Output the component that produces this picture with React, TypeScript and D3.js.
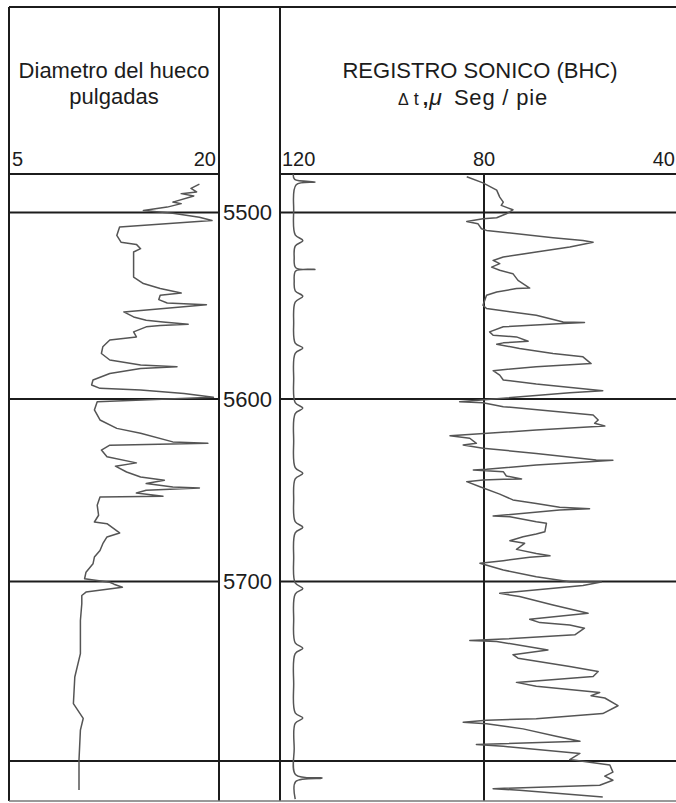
import React from "react";
import * as d3 from "d3";

// depth (ft), caliper (in)
const caliperLog = [
  [5485.3, 18.6], [5487.5, 18.0], [5489.3, 18.4], [5490.2, 17.3], [5491.4, 18.2], [5494.6, 16.7],
  [5495.4, 17.3], [5497.2, 16.3], [5499.0, 14.6], [5500.4, 16.7], [5502.5, 18.6], [5504.3, 19.5],
  [5507.8, 12.9], [5512.3, 12.7], [5515.9, 13.0], [5517.1, 14.1], [5519.4, 14.4], [5521.2, 13.9],
  [5534.6, 13.9], [5538.1, 14.6], [5540.8, 15.8], [5543.2, 17.3], [5544.4, 15.8], [5546.7, 15.7],
  [5548.5, 16.3], [5549.4, 19.1], [5553.3, 13.2], [5556.0, 13.9], [5557.8, 14.8], [5558.7, 16.0],
  [5559.9, 17.8], [5560.6, 15.8], [5561.3, 14.8], [5564.0, 13.9], [5566.7, 14.1], [5568.4, 12.2],
  [5572.0, 11.7], [5575.6, 11.6], [5579.1, 12.2], [5581.8, 14.4], [5582.7, 17.0], [5583.6, 14.4],
  [5586.3, 12.2], [5589.8, 11.0], [5592.5, 10.9], [5594.3, 11.5], [5595.2, 14.4], [5597.0, 17.5],
  [5599.1, 19.6], [5601.5, 11.3], [5606.0, 11.1], [5611.5, 11.5], [5616.1, 12.7], [5618.8, 14.4],
  [5623.5, 16.7], [5624.3, 19.2], [5625.3, 12.2], [5628.0, 11.6], [5631.7, 12.0], [5635.0, 14.1],
  [5636.8, 12.6], [5640.0, 13.4], [5642.7, 14.4], [5644.5, 16.1], [5646.3, 14.8], [5648.2, 16.7],
  [5648.7, 18.6], [5650.0, 14.8], [5651.5, 14.1], [5653.3, 16.0], [5653.7, 11.5], [5658.2, 11.3],
  [5663.7, 11.4], [5667.4, 11.1], [5668.3, 12.0], [5673.4, 12.9], [5675.6, 12.0], [5679.3, 11.7],
  [5683.0, 11.5], [5686.6, 11.1], [5690.3, 11.0], [5694.9, 10.5], [5698.5, 10.4], [5700.4, 12.2],
  [5701.5, 12.5], [5703.2, 13.1], [5705.9, 10.5], [5707.8, 10.2], [5712.4, 10.2], [5721.7, 10.1],
  [5740.2, 10.1], [5753.2, 9.7], [5768.0, 9.6], [5776.3, 10.3], [5782.8, 10.1], [5799.4, 10.0],
  [5816.0, 10.0],
];

// depth (ft), delta t (microsec / ft)
const sonicLog = [
  [5481.4, 83.4], [5484.6, 80.2], [5488.4, 77.5], [5492.0, 76.9], [5494.6, 76.2], [5496.3, 76.6],
  [5498.6, 74.3], [5500.7, 75.6], [5502.8, 77.5], [5503.4, 80.2], [5504.8, 83.4], [5506.0, 81.2],
  [5508.7, 80.5], [5509.6, 79.5], [5513.5, 66.4], [5515.0, 60.5], [5515.9, 58.5], [5518.5, 63.1],
  [5521.2, 69.7], [5523.9, 76.2], [5525.7, 78.2], [5527.4, 76.9], [5529.3, 78.5], [5531.0, 76.9],
  [5532.8, 74.3], [5536.4, 73.3], [5540.5, 71.0], [5540.8, 73.6], [5542.6, 77.5], [5544.4, 79.5],
  [5549.7, 80.2], [5551.5, 79.5], [5555.1, 69.7], [5558.7, 64.4], [5559.0, 60.2], [5559.5, 64.4],
  [5561.3, 76.2], [5564.0, 78.9], [5565.8, 78.2], [5566.7, 73.6], [5569.0, 71.3], [5569.9, 76.2],
  [5570.6, 77.5], [5572.9, 73.0], [5575.6, 66.4], [5577.4, 60.5], [5581.0, 58.9], [5582.7, 69.7],
  [5584.8, 78.2], [5587.2, 76.9], [5589.8, 76.2], [5592.0, 69.7], [5595.6, 56.6], [5596.6, 63.1],
  [5599.6, 76.2], [5601.5, 84.8], [5602.0, 80.2], [5604.2, 76.2], [5608.8, 58.5], [5611.5, 57.5],
  [5613.3, 58.2], [5614.8, 56.2], [5617.0, 69.7], [5620.1, 86.7], [5621.5, 82.8], [5624.3, 81.5],
  [5625.2, 84.1], [5627.0, 80.2], [5629.8, 69.7], [5633.4, 57.9], [5633.5, 54.6], [5634.4, 59.2],
  [5636.2, 69.7], [5638.5, 79.5], [5638.9, 82.1], [5639.8, 76.2], [5642.2, 75.6], [5643.8, 72.6],
  [5644.0, 76.2], [5644.4, 80.2], [5645.3, 83.4], [5648.1, 80.8], [5652.1, 76.9], [5655.3, 74.3],
  [5657.2, 69.7], [5659.3, 65.1], [5660.1, 59.2], [5660.8, 65.1], [5664.1, 78.2], [5664.5, 74.9],
  [5667.2, 69.7], [5668.1, 67.7], [5672.7, 68.0], [5674.0, 69.7], [5675.5, 72.3], [5677.7, 74.9],
  [5679.1, 72.0], [5682.4, 73.6], [5684.6, 69.7], [5685.9, 67.0], [5686.7, 71.0], [5688.6, 76.2],
  [5690.0, 80.8], [5693.7, 76.2], [5697.4, 69.7], [5700.1, 63.1], [5700.3, 56.9], [5702.2, 60.5],
  [5706.6, 76.9], [5708.4, 73.0], [5713.1, 66.4], [5717.7, 59.5], [5721.0, 71.0], [5722.9, 69.0],
  [5724.2, 63.1], [5726.0, 60.2], [5729.7, 62.1], [5732.1, 76.2], [5732.9, 82.8], [5733.4, 77.5],
  [5737.1, 69.7], [5738.1, 67.4], [5740.8, 74.3], [5742.7, 73.3], [5747.3, 63.1], [5750.1, 57.5],
  [5752.9, 58.5], [5756.2, 73.6], [5758.4, 69.7], [5761.8, 57.2], [5763.6, 58.9], [5764.9, 56.2],
  [5769.2, 53.6], [5773.6, 56.6], [5776.4, 69.7], [5777.3, 79.5], [5778.4, 84.1], [5779.2, 79.5],
  [5782.1, 72.3], [5786.2, 65.8], [5789.0, 61.1], [5790.8, 81.5], [5791.8, 76.2], [5795.8, 61.1],
  [5799.2, 63.1], [5802.2, 55.2], [5806.1, 54.6], [5808.3, 56.2], [5810.6, 54.6], [5813.3, 57.2],
  [5815.2, 78.2], [5816.1, 73.0], [5819.8, 56.6],
];

// timing marks curve near the 120 edge of the sonic track
const markerLog = [
  [5480.0, 117.6], [5482.8, 117.3], [5484.2, 113.3], [5485.6, 117.0], [5499.0, 117.5],
  [5512.0, 117.2], [5515.0, 115.7], [5518.0, 117.2], [5524.0, 117.4], [5529.6, 117.1],
  [5530.5, 113.3], [5531.4, 117.1], [5537.0, 117.4], [5542.0, 117.2], [5544.9, 115.7],
  [5548.0, 117.2], [5559.0, 117.5], [5570.0, 117.2], [5572.7, 115.7], [5575.5, 117.2],
  [5589.0, 117.5], [5602.0, 117.2], [5605.0, 115.7], [5608.0, 117.2], [5623.0, 117.5],
  [5637.6, 117.2], [5640.7, 115.7], [5643.8, 117.2], [5655.0, 117.5], [5667.2, 117.2],
  [5670.3, 115.7], [5673.4, 117.2], [5687.0, 117.5], [5700.8, 117.2], [5703.9, 115.7],
  [5707.0, 117.2], [5721.0, 117.5], [5734.2, 117.2], [5737.2, 115.7], [5740.2, 117.2],
  [5757.0, 117.5], [5773.2, 117.2], [5776.1, 115.7], [5779.0, 117.2], [5793.0, 117.4],
  [5807.6, 117.1], [5809.4, 111.9], [5811.3, 117.1], [5821.0, 117.2],
];

const depthLabels = [5500, 5600, 5700];
const caliperTicks = ["5", "20"];
const sonicTicks = ["120", "80", "40"];

const FONT = "'Liberation Sans', Arial, sans-serif";
const INK = "#1c1c1c";
const CURVE = "#555";

export default function App() {
  // depth axis: the printed log is not perfectly uniform, so piecewise
  const yDepth = d3
    .scaleLinear()
    .domain([5480, 5500, 5600, 5700, 5800, 5822])
    .range([174, 212.5, 399, 581.5, 761, 801]);
  const xCal = d3.scaleLinear().domain([5, 20]).range([9, 219]);
  const xSon = d3.scaleLinear().domain([120, 40]).range([281, 687]);

  const calLine = d3
    .line<number[]>()
    .x((d) => xCal(d[1]))
    .y((d) => yDepth(d[0]));
  const sonLine = d3
    .line<number[]>()
    .x((d) => xSon(d[1]))
    .y((d) => yDepth(d[0]));
  const markLine = d3
    .line<number[]>()
    .x((d) => xSon(d[1]))
    .y((d) => yDepth(d[0]))
    .curve(d3.curveCatmullRom);

  const top = 7;
  const bottom = yDepth(5822);
  const headerY = yDepth(5480);
  const leftX = xCal(5);
  const calRight = xCal(20);
  const sonLeft = 280;
  const right = 676;

  return (
    <svg
      width={676}
      height={803}
      style={{ position: "absolute", left: 0, top: 0, background: "#fff" }}
      fontFamily={FONT}
    >
      <rect x={0} y={0} width={676} height={803} fill="#fff" />

      {/* frame */}
      <g stroke={INK} strokeWidth={2} fill="none">
        <line x1={leftX} x2={right} y1={top} y2={top} />
        <line x1={leftX} x2={leftX} y1={top} y2={bottom} />
        <line x1={calRight} x2={calRight} y1={top} y2={bottom} />
        <line x1={sonLeft} x2={sonLeft} y1={top} y2={bottom} />
        <line x1={xSon(80)} x2={xSon(80)} y1={headerY} y2={bottom} />
        <line x1={leftX} x2={calRight} y1={headerY} y2={headerY} />
        <line x1={sonLeft} x2={right} y1={headerY} y2={headerY} />
        {depthLabels.map((d) => (
          <g key={d}>
            <line x1={leftX} x2={calRight} y1={yDepth(d)} y2={yDepth(d)} />
            <line x1={sonLeft} x2={right} y1={yDepth(d)} y2={yDepth(d)} />
          </g>
        ))}
        <line x1={leftX} x2={right} y1={yDepth(5800)} y2={yDepth(5800)} />
      </g>
      <line x1={leftX} x2={right} y1={bottom} y2={bottom} stroke="#777" strokeWidth={1.5} />

      {/* headers */}
      <g fill={INK} fontSize={22}>
        <text x={(leftX + calRight) / 2} y={78} textAnchor="middle">Diametro del hueco</text>
        <text x={(leftX + calRight) / 2} y={104} textAnchor="middle">pulgadas</text>
        <text x={480} y={78} textAnchor="middle">REGISTRO SONICO (BHC)</text>
        <text x={398} y={105}>
          <tspan fontSize={16}>Δ</tspan>
          <tspan fontSize={18} dx={5}>t</tspan>
          <tspan fontSize={20} dx={4} fontWeight="bold">,</tspan>
          <tspan fontSize={23} fontStyle="italic" dx={1}>μ</tspan>
          <tspan fontSize={22} dx={12} letterSpacing={0.8}>Seg / pie</tspan>
        </text>
      </g>

      {/* scale labels */}
      <g fill={INK} fontSize={20}>
        <text x={xCal(5) + 3} y={166}>{caliperTicks[0]}</text>
        <text x={xCal(20) - 3} y={166} textAnchor="end">{caliperTicks[1]}</text>
        <text x={xSon(120) + 1} y={166}>{sonicTicks[0]}</text>
        <text x={xSon(80)} y={166} textAnchor="middle">{sonicTicks[1]}</text>
        <text x={right - 1} y={166} textAnchor="end">{sonicTicks[2]}</text>
      </g>

      {/* depth labels */}
      <g fill={INK} fontSize={22}>
        {depthLabels.map((d) => (
          <text key={d} x={calRight + 4} y={yDepth(d)} dominantBaseline="central">
            {d}
          </text>
        ))}
      </g>

      {/* curves */}
      <g fill="none" stroke={CURVE} strokeWidth={1.5} strokeLinejoin="round">
        <path d={calLine(caliperLog) || ""} />
        <path d={sonLine(sonicLog) || ""} />
        <path d={markLine(markerLog) || ""} />
      </g>
    </svg>
  );
}
